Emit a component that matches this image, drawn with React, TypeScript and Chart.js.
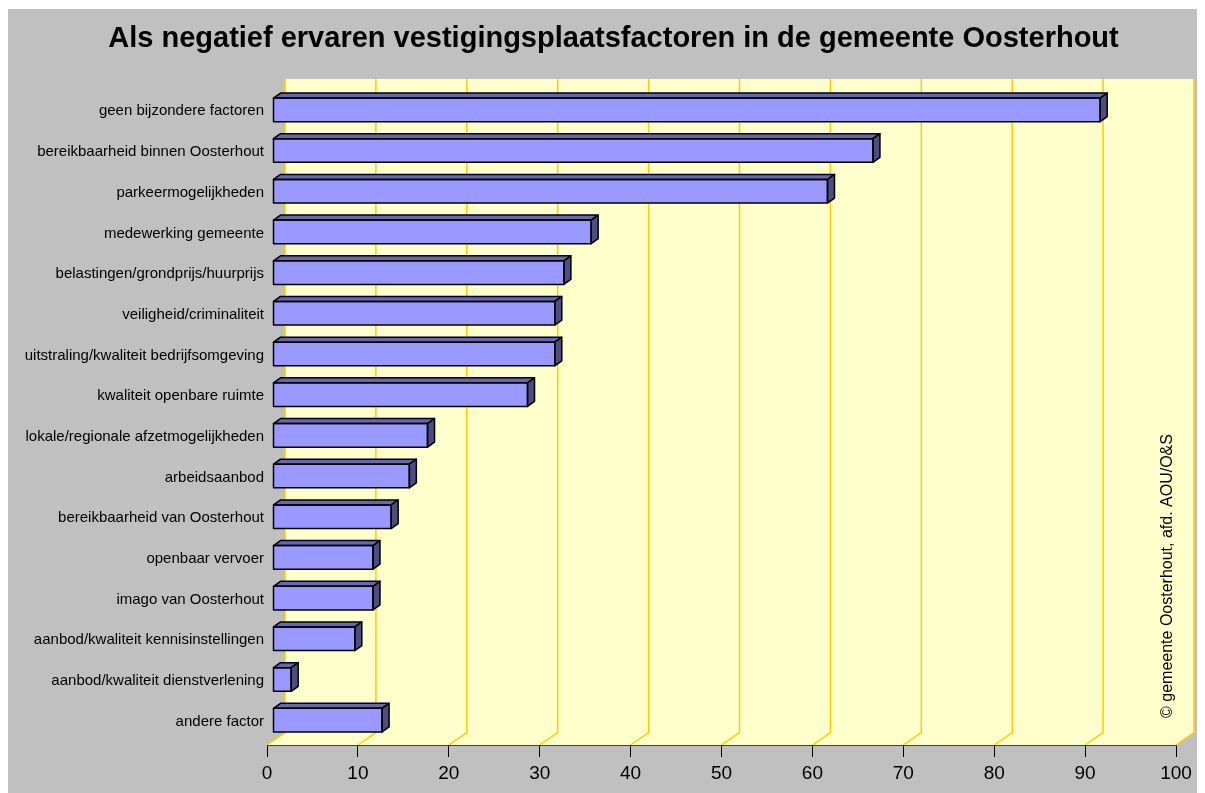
import React, { useEffect, useRef } from "react";
import { Chart, registerables } from "chart.js";

Chart.register(...registerables);

const TITLE = "Als negatief ervaren vestigingsplaatsfactoren in de gemeente Oosterhout";
const COPYRIGHT = "© gemeente Oosterhout, afd. AOU/O&S";

const categories = [
  "geen bijzondere factoren",
  "bereikbaarheid binnen Oosterhout",
  "parkeermogelijkheden",
  "medewerking gemeente",
  "belastingen/grondprijs/huurprijs",
  "veiligheid/criminaliteit",
  "uitstraling/kwaliteit bedrijfsomgeving",
  "kwaliteit openbare ruimte",
  "lokale/regionale afzetmogelijkheden",
  "arbeidsaanbod",
  "bereikbaarheid van Oosterhout",
  "openbaar vervoer",
  "imago van Oosterhout",
  "aanbod/kwaliteit kennisinstellingen",
  "aanbod/kwaliteit dienstverlening",
  "andere factor",
];

const values = [91, 66, 61, 35, 32, 31, 31, 28, 17, 15, 13, 11, 11, 9, 2, 12];

const xMin = 0;
const xMax = 100;
const xStep = 10;

const FONT = '"Liberation Sans", Arial, sans-serif';

const WALL_DX = 18;
const WALL_DY = -12.5;
const BAR_SHIFT_X = 6;
const BAR_SHIFT_Y = -4.5;
const BAR_DEPTH_X = 7;
const BAR_DEPTH_Y = -5;

const threeD = {
  id: "threeD",
  beforeDraw(chart: any) {
    const { ctx, chartArea: a, scales } = chart;
    const x = scales.x;
    ctx.save();
    ctx.fillStyle = "#C0C0C0";
    ctx.fillRect(0, 0, chart.width, chart.height);
    const wallTop = a.top - 15;
    ctx.fillStyle = "#FFFFCC";
    ctx.beginPath();
    ctx.moveTo(a.left, a.bottom);
    ctx.lineTo(a.right, a.bottom);
    ctx.lineTo(a.right + WALL_DX, a.bottom + WALL_DY);
    ctx.lineTo(a.right + WALL_DX, wallTop);
    ctx.lineTo(a.left + WALL_DX, wallTop);
    ctx.lineTo(a.left + WALL_DX, a.bottom + WALL_DY);
    ctx.closePath();
    ctx.fill();
    ctx.strokeStyle = "#FFCC00";
    ctx.lineWidth = 1.5;
    x.ticks.forEach((t: any) => {
      const px = x.getPixelForValue(t.value);
      ctx.beginPath();
      ctx.moveTo(px, a.bottom);
      ctx.lineTo(px + WALL_DX, a.bottom + WALL_DY);
      ctx.lineTo(px + WALL_DX, wallTop);
      ctx.stroke();
    });
    // title
    ctx.font = `bold 29px ${FONT}`;
    ctx.fillStyle = "#000000";
    ctx.textAlign = "center";
    ctx.textBaseline = "middle";
    ctx.fillText(TITLE, 605.5, 29.5);
    ctx.restore();
  },
  beforeDatasetsDraw(chart: any) {
    chart.ctx.save();
    chart.ctx.translate(BAR_SHIFT_X, BAR_SHIFT_Y);
  },
  afterDatasetsDraw(chart: any) {
    const ctx = chart.ctx;
    const meta = chart.getDatasetMeta(0);
    ctx.lineWidth = 1.5;
    ctx.lineJoin = "round";
    ctx.strokeStyle = "#000000";
    meta.data.forEach((bar: any) => {
      const { x, y, base, height } = bar.getProps(["x", "y", "base", "height"], true);
      const top = y - height / 2;
      const bot = y + height / 2;
      ctx.fillStyle = "#6666B3";
      ctx.beginPath();
      ctx.moveTo(base, top);
      ctx.lineTo(x, top);
      ctx.lineTo(x + BAR_DEPTH_X, top + BAR_DEPTH_Y);
      ctx.lineTo(base + BAR_DEPTH_X, top + BAR_DEPTH_Y);
      ctx.closePath();
      ctx.fill();
      ctx.stroke();
      ctx.fillStyle = "#4D4D80";
      ctx.beginPath();
      ctx.moveTo(x, top);
      ctx.lineTo(x + BAR_DEPTH_X, top + BAR_DEPTH_Y);
      ctx.lineTo(x + BAR_DEPTH_X, bot + BAR_DEPTH_Y);
      ctx.lineTo(x, bot);
      ctx.closePath();
      ctx.fill();
      ctx.stroke();
      ctx.strokeRect(base, top, x - base, height);
    });
    ctx.restore();

    ctx.save();
    ctx.translate(1160, 567);
    ctx.rotate(-Math.PI / 2);
    ctx.font = `16px ${FONT}`;
    ctx.fillStyle = "#000000";
    ctx.textAlign = "center";
    ctx.textBaseline = "middle";
    ctx.fillText(COPYRIGHT, 0, 0);
    ctx.restore();
  },
};

export default function App() {
  const ref = useRef<HTMLCanvasElement | null>(null);

  useEffect(() => {
    document.documentElement.style.overflow = "hidden";
    document.body.style.overflow = "hidden";
    if (!ref.current) return;
    Chart.defaults.font.family = FONT;
    const chart = new Chart(ref.current, {
      type: "bar",
      data: {
        labels: categories,
        datasets: [
          {
            data: values,
            backgroundColor: "#9999FF",
            borderColor: "#000000",
            borderWidth: 0,
            barPercentage: 0.58,
            categoryPercentage: 1,
          },
        ],
      },
      options: {
        indexAxis: "y",
        responsive: false,
        animation: false,
        layout: { padding: { left: 0, right: 29, top: 85, bottom: 0 } },
        plugins: {
          legend: { display: false },
          tooltip: { enabled: false },
          title: { display: false },
        },
        scales: {
          x: {
            type: "linear",
            min: xMin,
            max: xMax,
            ticks: {
              stepSize: xStep,
              color: "#000000",
              font: { size: 19, family: FONT },
              padding: 5,
            },
            grid: {
              drawOnChartArea: false,
              drawTicks: true,
              tickLength: 12,
              tickColor: "#000000",
              tickWidth: 1,
            },
            border: { display: true, color: "#404040", width: 1 },
            afterFit: (scale: any) => {
              scale.height = 48;
            },
          },
          y: {
            ticks: {
              color: "#000000",
              font: { size: 15, family: FONT },
              padding: 3,
              labelOffset: -3,
              autoSkip: false,
            },
            grid: { display: false, drawTicks: false },
            border: { display: false },
            afterFit: (scale: any) => {
              scale.width = 259;
            },
          },
        },
      },
      plugins: [threeD],
    });
    return () => chart.destroy();
  }, []);

  return (
    <div style={{ paddingTop: 1 }}>
      <canvas ref={ref} width={1197} height={784} style={{ display: "block" }} />
    </div>
  );
}
